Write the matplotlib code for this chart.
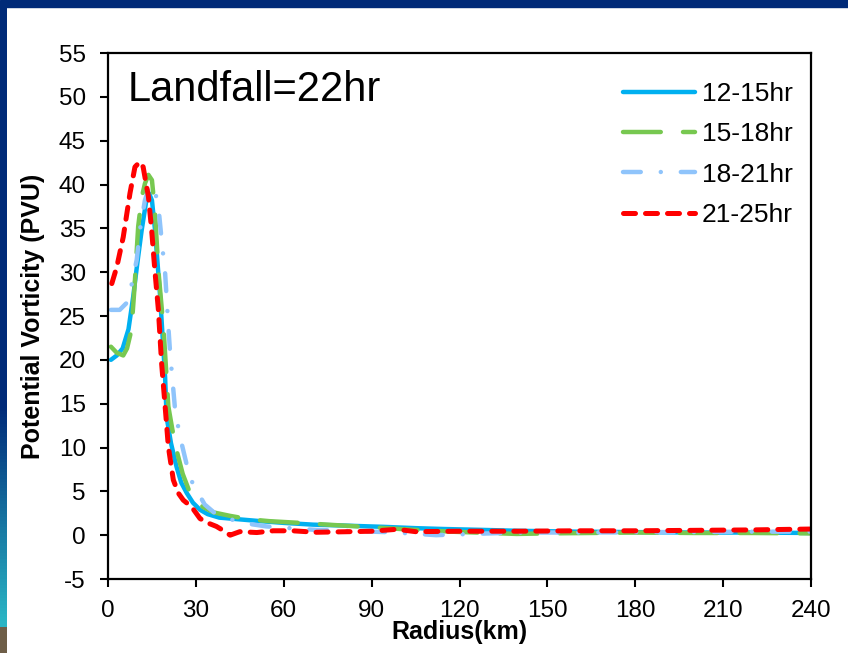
import numpy as np
import matplotlib.pyplot as plt
from matplotlib.patches import Rectangle

plt.rcParams['font.family'] = ['Liberation Sans', 'DejaVu Sans']
plt.rcParams['axes.unicode_minus'] = False

# radius (km) and potential vorticity (PVU)
r_1215 = [1, 3, 5, 7, 8.6, 10, 11.5, 13, 14, 15, 16, 17.8, 19.5, 20, 21.5, 23.4, 25, 26.9, 29, 31.4,
          34, 38, 45, 52, 60, 70, 80, 94, 105, 115, 128, 140, 160, 180, 200, 220, 240]
pv_1215 = [20, 20.5, 21.3, 23.5, 27.2, 31, 34.8, 38, 39, 38.2, 35, 27.2, 18, 13.5, 10.5, 7.8, 6, 4.8, 3.7, 2.9,
           2.4, 2.0, 1.8, 1.6, 1.4, 1.2, 1.1, 0.95, 0.8, 0.7, 0.6, 0.5, 0.4, 0.35, 0.3, 0.3, 0.25]

r_1518 = [1, 3, 5.2, 6.5, 8, 9, 10.3, 11.5, 12.6, 13.8, 15, 16, 17.2, 19, 20.6, 22, 23.4, 25.5, 28, 30,
          32.5, 36, 41.7, 48.5, 55, 65.5, 75, 82.6, 95, 105, 117, 130, 139.5, 150, 165, 180, 200, 220, 240]
pv_1518 = [21.5, 20.8, 20.5, 21.3, 23.4, 28, 35.2, 38.5, 40.1, 41.1, 40.5, 37.1, 30.2, 23.4, 14.7, 12, 9.7, 7, 4.8, 3.9,
           3.2, 2.6, 2.2, 1.8, 1.6, 1.4, 1.2, 1.05, 0.8, 0.6, 0.4, 0.25, 0.14, 0.2, 0.25, 0.3, 0.25, 0.25, 0.2]

r_1821 = [1, 4, 6.4, 8, 9.8, 11, 12.6, 14, 15.5, 17.2, 18.3, 19.5, 20.6, 21.2, 22.9, 24.6, 26.9, 28.5, 30.8, 33,
          36.5, 41, 46, 54, 62, 71, 85, 95, 103, 112, 125, 140, 160, 180, 200, 220, 240]
pv_1821 = [25.7, 25.7, 26.5, 28.5, 31.4, 35, 38.2, 39.6, 40, 37.5, 33.7, 29.9, 23.8, 20.8, 14.3, 11.2, 8, 6.2, 4.8, 3.5,
           2.5, 1.9, 1.4, 1.0, 0.8, 0.6, 0.45, 0.35, 0.2, 0.0, 0.15, 0.3, 0.3, 0.35, 0.35, 0.4, 0.4]

r_2125 = [1.3, 3, 5.2, 7.5, 9.2, 10.9, 12, 13.8, 14.9, 16, 17.2, 18.3, 19.5, 20.6, 22.3, 24, 25.7, 28.6, 31.4, 34,
          37, 39.5, 41.7, 45, 50.8, 56.4, 63, 71, 82.6, 90, 98.6, 105, 120, 140, 160, 180, 200, 220, 240]
pv_2125 = [28.7, 30.6, 34, 39, 42, 42.6, 42, 38.6, 34.8, 30.2, 25.7, 19.6, 14.7, 10.1, 6.3, 4.8, 4.0, 3.2, 1.9, 1.4,
           1.0, 0.5, 0.0, 0.4, 0.3, 0.5, 0.5, 0.33, 0.4, 0.45, 0.67, 0.4, 0.45, 0.45, 0.5, 0.5, 0.55, 0.6, 0.7]

labels = ['12-15hr', '15-18hr', '18-21hr', '21-25hr']
x_ticks = [0, 30, 60, 90, 120, 150, 180, 210, 240]
y_ticks = list(range(-5, 60, 5))

fig = plt.figure(figsize=(8.48, 6.53), dpi=100)
fig.patch.set_facecolor('white')

# slide frame: dark blue top bar and left strip with gradient
fig.add_artist(Rectangle((0, 1 - 7 / 653), 1, 7 / 653, transform=fig.transFigure,
                         color='#002a78', zorder=0))
band = fig.add_axes([0, 0, 7 / 848, 1 - 7 / 653])
band.axis('off')
grad = np.ones((200, 1, 3))
t = np.linspace(0, 1, 200)[:, None]
top_c = np.array([0x00, 0x2a, 0x78]) / 255
bot_c = np.array([0x2a, 0xb4, 0xc4]) / 255
w = np.clip((t - 0.62) / 0.33, 0, 1)
grad[:, 0, :] = top_c * (1 - w) + bot_c * w
grad[t[:, 0] > 0.962] = np.array([0x6e, 0x5e, 0x48]) / 255
band.imshow(grad, aspect='auto', extent=[0, 1, 0, 1])

ax = fig.add_axes([108 / 848, 74 / 653, 703 / 848, 526 / 653])

ax.plot(r_1215, pv_1215, color='#00b0f0', lw=3.2, solid_capstyle='round', label=labels[0])
ax.plot(r_1518, pv_1518, color='#77c850', lw=3.2, dashes=(8.5, 5), dash_capstyle='round', label=labels[1])
ax.plot(r_1821, pv_1821, color='#8fc4fb', lw=3.2, dashes=(4, 4.5, 0.01, 4.5), dash_capstyle='round',
        label=labels[2])
ax.plot(r_2125, pv_2125, color='#ff0000', lw=3.6, dashes=(2.4, 2.0), dash_capstyle='round', label=labels[3])

ax.set_xlim(0, 240)
ax.set_ylim(-5, 55)
ax.set_xticks(x_ticks)
ax.set_yticks(y_ticks)
ax.tick_params(axis='both', labelsize=17.5, direction='out', length=6, width=1.5)
ax.tick_params(axis='y', pad=10)
ax.tick_params(axis='x', pad=9)
for s in ax.spines.values():
    s.set_linewidth(1.6)

ax.set_xlabel('Radius(km)', fontsize=18, fontweight='bold', labelpad=-1)
ax.set_ylabel('Potential Vorticity (PVU)', fontsize=18, fontweight='bold', labelpad=10)

ax.text(0.028, 0.93, 'Landfall=22hr', transform=ax.transAxes, fontsize=30, va='center', ha='left')

ax.legend(loc='upper left', bbox_to_anchor=(0.7326, 0.945), frameon=False, fontsize=19,
          handlelength=2.73, handletextpad=0.25, labelspacing=0.62, borderpad=0, borderaxespad=0)

fig.savefig('out.png', dpi=100)
